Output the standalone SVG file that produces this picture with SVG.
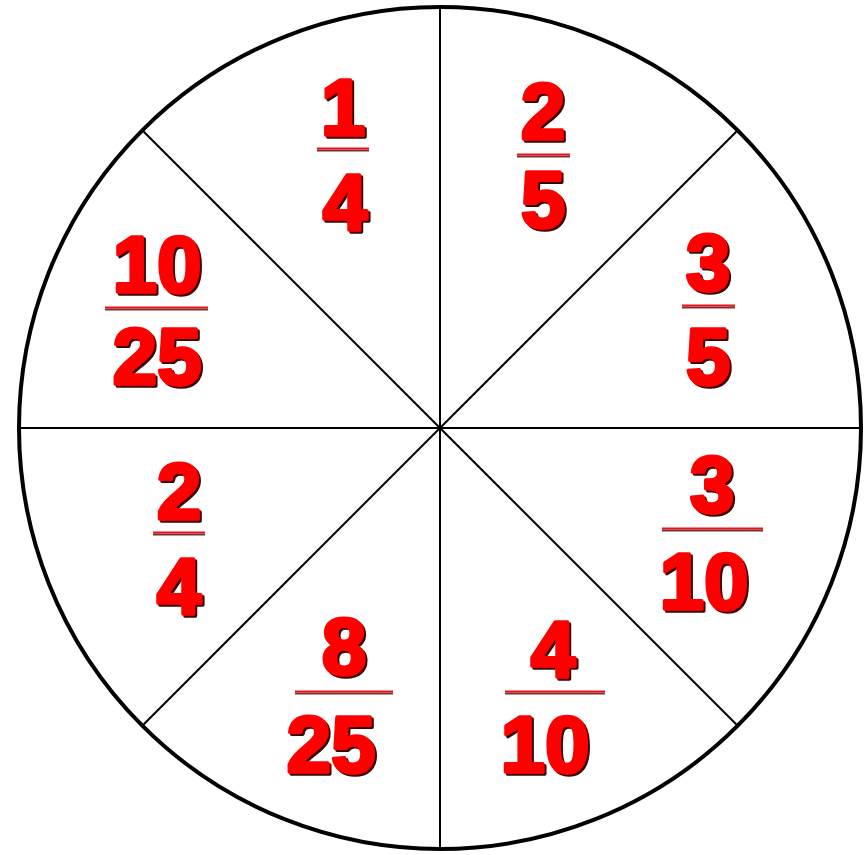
<svg xmlns="http://www.w3.org/2000/svg" width="867" height="855" viewBox="0 0 867 855">
<defs>
<filter id="shadow" x="-20%" y="-20%" width="140%" height="140%">
<feDropShadow dx="2" dy="2" stdDeviation="0.6" flood-color="#3a0404" flood-opacity="1"/>
</filter>
<style>
.tx{font-family:"Liberation Sans",Arial,sans-serif;font-weight:bold;font-size:80px;text-anchor:middle;fill:#ff0000;stroke:#ff0000;stroke-width:3.5;stroke-linejoin:round;filter:url(#shadow)}
.bd{stroke:#7a3030;stroke-width:2}
.br{stroke:#e8131b;stroke-width:2}
.div{stroke:#000;stroke-width:2;fill:none}
</style>
</defs>
<rect width="867" height="855" fill="#fff"/>
<g id="wheel">
<circle cx="440" cy="428" r="421" fill="#fff" stroke="#000" stroke-width="4"/>
</g>
<g id="connectors">
<line class="div" x1="440" y1="7" x2="440" y2="849"/>
<line class="div" x1="19" y1="428" x2="861" y2="428"/>
<line class="div" x1="142.3" y1="130.3" x2="737.7" y2="725.7"/>
<line class="div" x1="737.7" y1="130.3" x2="142.3" y2="725.7"/>
</g>
<g id="f1_4">
<text class="tx" x="343" y="135">1</text>
<line class="bd" x1="317" y1="150.5" x2="369" y2="150.5"/><line class="br" x1="317" y1="148.5" x2="369" y2="148.5"/>
<text class="tx" x="345" y="230">4</text>
</g>
<g id="f2_5">
<text class="tx" x="543" y="139">2</text>
<line class="bd" x1="517" y1="156.5" x2="570" y2="156.5"/><line class="br" x1="517" y1="154.5" x2="570" y2="154.5"/>
<text class="tx" x="543" y="227">5</text>
</g>
<g id="f3_5">
<text class="tx" x="708" y="290">3</text>
<line class="bd" x1="682" y1="307.5" x2="735" y2="307.5"/><line class="br" x1="682" y1="305.5" x2="735" y2="305.5"/>
<text class="tx" x="708" y="384">5</text>
</g>
<g id="f10_25">
<text class="tx" x="157" y="292">10</text>
<line class="bd" x1="105" y1="309.5" x2="208" y2="309.5"/><line class="br" x1="105" y1="307.5" x2="208" y2="307.5"/>
<text class="tx" x="157" y="384">25</text>
</g>
<g id="f2_4">
<text class="tx" x="179" y="519">2</text>
<line class="bd" x1="153" y1="534.5" x2="205" y2="534.5"/><line class="br" x1="153" y1="532.5" x2="205" y2="532.5"/>
<text class="tx" x="179" y="614">4</text>
</g>
<g id="f3_10">
<text class="tx" x="712" y="512">3</text>
<line class="bd" x1="662" y1="530.5" x2="763" y2="530.5"/><line class="br" x1="662" y1="528.5" x2="763" y2="528.5"/>
<text class="tx" x="704" y="609">10</text>
</g>
<g id="f8_25">
<text class="tx" x="344" y="674">8</text>
<line class="bd" x1="295" y1="693.5" x2="393" y2="693.5"/><line class="br" x1="295" y1="691.5" x2="393" y2="691.5"/>
<text class="tx" x="331" y="772">25</text>
</g>
<g id="f4_10">
<text class="tx" x="553" y="677">4</text>
<line class="bd" x1="505" y1="693.5" x2="605" y2="693.5"/><line class="br" x1="505" y1="691.5" x2="605" y2="691.5"/>
<text class="tx" x="545" y="772">10</text>
</g>
</svg>
